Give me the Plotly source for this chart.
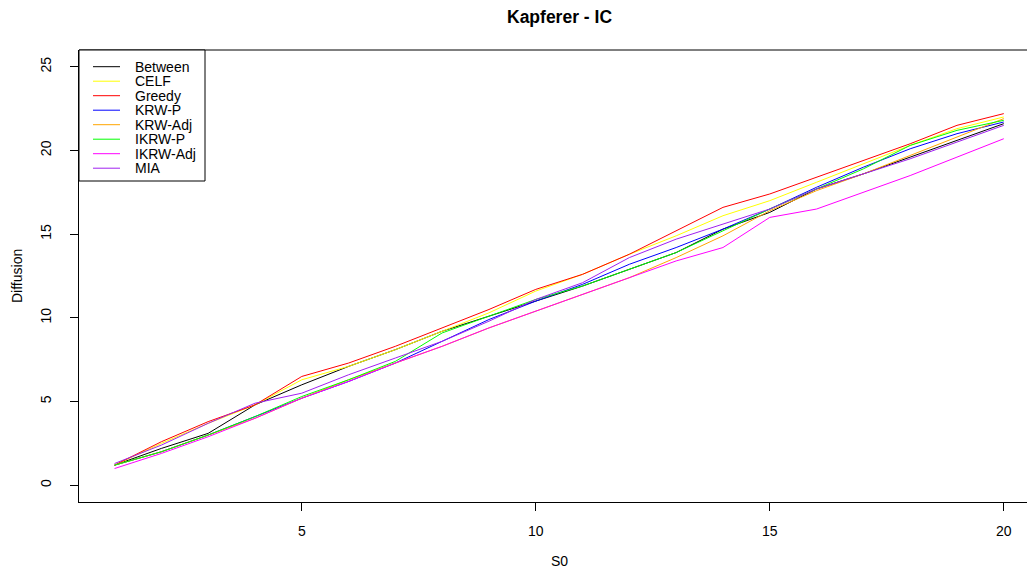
import plotly.graph_objects as go

x_vals = list(range(1, 21))

between = [1.2, 2.2, 3.1, 4.8, 6.0, 7.1, 8.1, 9.2, 10.1, 11.0, 11.9, 12.9, 13.9, 15.3, 16.3, 17.7, 18.6, 19.6, 20.6, 21.6]
celf = [1.2, 2.5, 3.7, 4.8, 6.3, 7.1, 8.1, 9.2, 10.3, 11.6, 12.6, 13.8, 14.9, 16.1, 17.0, 18.1, 19.2, 20.3, 21.3, 22.0]
greedy = [1.2, 2.6, 3.8, 4.8, 6.5, 7.3, 8.3, 9.4, 10.5, 11.7, 12.6, 13.8, 15.2, 16.6, 17.4, 18.4, 19.4, 20.4, 21.5, 22.2]
krw_p = [1.2, 2.0, 3.0, 4.1, 5.2, 6.2, 7.3, 8.6, 9.9, 11.0, 12.0, 13.2, 14.2, 15.3, 16.5, 17.8, 19.0, 20.1, 21.0, 21.7]
krw_adj = [1.2, 2.0, 3.0, 4.0, 5.2, 6.3, 7.3, 8.3, 9.4, 10.4, 11.4, 12.4, 13.6, 14.9, 16.4, 17.6, 18.6, 19.7, 20.8, 21.9]
ikrw_p = [1.2, 2.0, 3.0, 4.1, 5.3, 6.3, 7.4, 9.1, 10.1, 11.1, 11.9, 12.9, 13.9, 15.2, 16.5, 17.7, 18.9, 20.3, 21.2, 21.8]
ikrw_adj = [1.0, 1.9, 2.9, 4.0, 5.2, 6.2, 7.3, 8.3, 9.4, 10.4, 11.4, 12.4, 13.4, 14.2, 16.0, 16.5, 17.5, 18.5, 19.6, 20.7]
mia = [1.3, 2.4, 3.7, 4.9, 5.5, 6.6, 7.6, 8.6, 9.8, 11.1, 12.1, 13.6, 14.7, 15.6, 16.5, 17.7, 18.6, 19.5, 20.5, 21.5]

series_names = ["Between", "CELF", "Greedy", "KRW-P", "KRW-Adj", "IKRW-P", "IKRW-Adj", "MIA"]
series_values = [between, celf, greedy, krw_p, krw_adj, ikrw_p, ikrw_adj, mia]
series_colors = ["#000000", "#FFFF00", "#FF0000", "#0000FF", "#FFA500", "#00FF00", "#FF00FF", "#A020F0"]

x_ticks = [5, 10, 15, 20]
y_ticks = [0, 5, 10, 15, 20, 25]

FONT = "Liberation Sans, Arial, sans-serif"
OFF = 8  # page body margin
W, H = 1035 - OFF, 572 - OFF
L, R, T, B = 79 - OFF, 0, 50 - OFF, 70
PW = W - L - R
PH = H - T - B

fig = go.Figure()
for name, vals, col in zip(series_names, series_values, series_colors):
    fig.add_trace(go.Scatter(x=x_vals, y=vals, mode="lines", name=name,
                             line=dict(color=col, width=1), showlegend=False))

def px_x(px):
    return (px - OFF - L) / PW

def px_y(py):
    return (T + PH - (py - OFF)) / PH

shapes = []
annotations = []
# top border of the box
shapes.append(dict(type="line", xref="paper", yref="paper", x0=0, x1=1.01, y0=1, y1=1,
                   line=dict(color="black", width=1)))
# legend box
shapes.append(dict(type="rect", xref="paper", yref="paper",
                   x0=px_x(79), x1=px_x(205), y0=px_y(181), y1=px_y(50),
                   line=dict(color="black", width=1), fillcolor="white", layer="above"))
for i, (name, col) in enumerate(zip(series_names, series_colors)):
    yy = 66.7 + i * 14.5
    shapes.append(dict(type="line", xref="paper", yref="paper",
                       x0=px_x(93), x1=px_x(120), y0=px_y(yy), y1=px_y(yy),
                       line=dict(color=col, width=1), layer="above"))
    annotations.append(dict(text=name, xref="paper", yref="paper", x=px_x(133), y=px_y(yy),
                            xanchor="left", yanchor="middle", showarrow=False,
                            font=dict(family=FONT, size=14, color="black")))

# title and axis titles
annotations.append(dict(text="<b>Kapferer - IC</b>", xref="paper", yref="paper",
                        x=px_x(559.5), y=px_y(17), xanchor="center", yanchor="middle",
                        showarrow=False, font=dict(family=FONT, size=17.5, color="black")))
annotations.append(dict(text="S0", xref="paper", yref="paper",
                        x=px_x(559.5), y=px_y(561), xanchor="center", yanchor="middle",
                        showarrow=False, font=dict(family=FONT, size=14, color="black")))
annotations.append(dict(text="Diffusion", xref="paper", yref="paper",
                        x=px_x(17), y=px_y(276), xanchor="center", yanchor="middle",
                        textangle=-90, showarrow=False,
                        font=dict(family=FONT, size=14, color="black")))

fig.update_layout(
    width=W, height=H,
    margin=dict(l=L, r=R, t=T, b=B, pad=0),
    paper_bgcolor="white", plot_bgcolor="white",
    shapes=shapes, annotations=annotations,
    showlegend=False,
    font=dict(family=FONT, size=14, color="black"),
)
fig.update_xaxes(range=[0.24, 0.24 + PW / 46.8], tickvals=x_ticks, ticktext=[str(v) for v in x_ticks],
                 showgrid=False, zeroline=False, showline=True, linecolor="black", linewidth=1,
                 ticks="outside", ticklen=8, tickcolor="black", tickwidth=1, automargin=False,
                 tickfont=dict(family=FONT, size=14, color="black"), ticklabelstandoff=8)
fig.update_yaxes(range=[-1, 26], tickvals=y_ticks, ticktext=[str(v) for v in y_ticks],
                 showgrid=False, zeroline=False, showline=True, linecolor="black", linewidth=1,
                 ticks="outside", ticklen=8, tickcolor="black", tickwidth=1, tickangle=-90,
                 automargin=False,
                 tickfont=dict(family=FONT, size=14, color="black"), ticklabelstandoff=13)

fig.write_html("out.html")
